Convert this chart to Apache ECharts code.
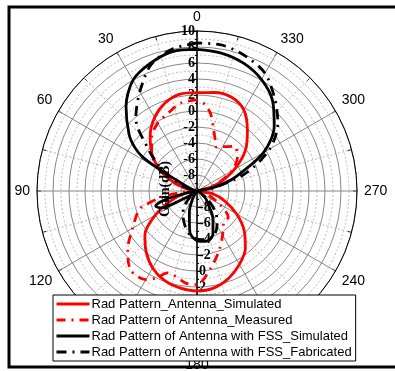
<!DOCTYPE html>
<html><head><meta charset="utf-8">
<script src="https://cdn.jsdelivr.net/npm/echarts@6/dist/echarts.min.js"></script>
<style>html,body{margin:0;padding:0;background:#fff}#c{width:395px;height:371px}</style>
</head><body><div id="c"></div>
<script>
// Series names
const seriesNames = [
  'Rad Pattern_Antenna_Simulated',
  'Rad Pattern of Antenna_Measured',
  'Rad Pattern of Antenna with FSS_Simulated',
  'Rad Pattern of Antenna with FSS_Fabricated'
];
// Angles (deg) and gains (dB)
const simAntAngles = [0,10,20,30,40,50,60,70,80,90,100,110,120,130,140,150,160,170,180,190,200,210,220,230,240,250,260,270,280,290,300,310,320,330,340,350,360];
const simAntGain   = [2.3,2.3,1.7,0.6,-0.9,-2.6,-4.6,-7.0,-9.0,-10,-8.6,-6.6,-4.0,-1.5,-0.1,1.1,1.9,2.3,2.5,2.3,1.6,0.6,-0.6,-2.3,-4.3,-6.3,-8.0,-10,-9.2,-7.1,-4.6,-2.1,-0.2,1.7,2.5,2.5,2.3];

const measAntAngles = [0,10,20,30,40,50,60,70,80,90,95,100,106,110,120,130,140,150,155,160,166,173,180,190,200,210,220,230,240,250,260,270,280,290,300,310,320,330,336,340,345,350,355,360];
const measAntGain   = [1.4,1.2,0.4,-0.2,-1.2,-2.6,-4.6,-7.0,-9.5,-10,-8,-5.5,-2.9,-2.1,-0.7,1.3,2.9,2.8,2.0,0.9,1.0,1.6,1.7,-0.2,-2.0,-3.6,-4.8,-4.9,-6.8,-8.5,-9.6,-10,-9.5,-7.3,-5.0,-3.4,-2.7,-3.6,-4.0,-3.3,-2.0,-0.2,0.9,1.4];

const simFssAngles = [0,10,20,30,40,50,55,58,60,62,70,80,90,100,105,110,115,120,130,140,150,160,170,180,190,200,210,220,230,240,250,270,280,285,290,300,310,320,330,340,350,360];
const simFssGain   = [7.7,7.7,7.0,6.0,3.8,1.1,-0.5,-2.0,-4.5,-7.0,-9.0,-9.8,-10,-9,-6,-4.5,-5,-8,-9.5,-10,-9.0,-7.2,-4.8,-3.8,-3.6,-4.2,-6.0,-7.8,-8.6,-9.5,-10,-10,-8.5,-6.8,-4.9,-0.4,2.6,4.7,6.1,7.0,7.5,7.7];

const fabFssAngles = [0,10,20,30,40,50,55,60,70,80,90,130,140,150,160,170,180,190,200,210,220,230,240,270,280,290,300,310,320,330,340,350,360];
const fabFssGain   = [8.5,8.0,6.8,4.3,1.9,-2.2,-3.9,-5.5,-8.0,-9.5,-10,-9,-7.5,-6.5,-5.5,-4.5,-4.0,-3.8,-4.0,-5.0,-6.3,-8.0,-9.5,-10,-8.0,-3.5,0.5,3.2,5.1,7.0,7.9,8.5,8.5];

// Axis ticks
const angleLabels = [0,30,60,90,120,150,180,210,240,270,300,330];
const gainMin = -10, gainMax = 10, gainStep = 2;

function pairs(angles, gains){ return angles.map((a,i)=>[gains[i], a]); }

const C = [197, 191], R = 160;
const chart = echarts.init(document.getElementById('c'), null, {renderer:'canvas'});
const radLabelStyle = {fontFamily:'Liberation Serif', fontWeight:'bold', fontSize:14, color:'#000', margin:2,
  formatter: v => (v === gainMin ? '' : String(v))};

chart.setOption({
  animation:false,
  backgroundColor:'#fff',
  polar:[{center:C, radius:R},{center:C, radius:R}],
  angleAxis:[{
    polarIndex:0, type:'value', min:0, max:360, interval:30, startAngle:90, clockwise:false,
    axisLine:{show:true, lineStyle:{color:'#000', width:1}},
    axisTick:{show:true, inside:true, length:4, lineStyle:{color:'#000'}},
    minorTick:{show:true, splitNumber:2, length:4, lineStyle:{color:'#000'}},
    axisLabel:{show:true, margin:7, fontFamily:'Liberation Sans', fontSize:14, color:'#000',
      formatter: v => angleLabels.includes(v) ? String(v) : ''},
    splitLine:{show:true, lineStyle:{color:'#888', width:1}},
    minorSplitLine:{show:true, lineStyle:{color:'#bbb', type:[2,2], width:1}}
  },{
    polarIndex:1, type:'value', min:0, max:360, startAngle:270, clockwise:false,
    axisLine:{show:false}, axisTick:{show:false}, axisLabel:{show:false}, splitLine:{show:false}
  }],
  radiusAxis:[{
    polarIndex:0, type:'value', min:gainMin, max:gainMax, interval:gainStep,
    axisLine:{show:true, lineStyle:{color:'#000', width:1.5}},
    axisTick:{show:true, length:3, lineStyle:{color:'#000'}},
    minorTick:{show:true, splitNumber:2, length:2, lineStyle:{color:'#000'}},
    axisLabel:radLabelStyle,
    splitLine:{show:true, lineStyle:{color:'#888', width:1}},
    minorSplitLine:{show:true, lineStyle:{color:'#bbb', type:[2,2], width:1}}
  },{
    polarIndex:1, type:'value', min:gainMin, max:gainMax, interval:gainStep,
    axisLine:{show:true, lineStyle:{color:'#000', width:1.5}},
    axisTick:{show:true, length:3, lineStyle:{color:'#000'}},
    minorTick:{show:true, splitNumber:2, length:2, lineStyle:{color:'#000'}},
    axisLabel:radLabelStyle,
    splitLine:{show:false}
  }],
  legend:{
    orient:'vertical', left:53, top:295, width:307,
    backgroundColor:'#fff', borderColor:'#000', borderWidth:1, borderRadius:0,
    padding:[2,4,2,2], itemGap:2, itemWidth:33, itemHeight:12,
    itemStyle:{opacity:0},
    lineStyle:{width:3},
    textStyle:{fontFamily:'Liberation Sans', fontSize:13, lineHeight:14, color:'#000', padding:[0,0,0,-3]},
    data:seriesNames
  },
  series:[
    {name:seriesNames[0], type:'line', coordinateSystem:'polar', polarIndex:0, symbol:'none', smooth:0.3,
     lineStyle:{color:'#ff0000', width:2.8}, itemStyle:{color:'#ff0000'},
     data:pairs(simAntAngles, simAntGain)},
    {name:seriesNames[1], type:'line', coordinateSystem:'polar', polarIndex:0, symbol:'none', smooth:0.3,
     lineStyle:{color:'#ff0000', width:2.8, type:[9,6,2,6]}, itemStyle:{color:'#ff0000'},
     data:pairs(measAntAngles, measAntGain)},
    {name:seriesNames[2], type:'line', coordinateSystem:'polar', polarIndex:0, symbol:'none', smooth:0.3,
     lineStyle:{color:'#000', width:2.8}, itemStyle:{color:'#000'},
     data:pairs(simFssAngles, simFssGain)},
    {name:seriesNames[3], type:'line', coordinateSystem:'polar', polarIndex:0, symbol:'none', smooth:0.3,
     lineStyle:{color:'#000', width:2.8, type:[10,6,2,6]}, itemStyle:{color:'#000'},
     data:pairs(fabFssAngles, fabFssGain)}
  ],
  graphic:[
    {type:'rect', shape:{x:9, y:7, width:400, height:360}, style:{fill:null, stroke:'#000', lineWidth:3}, silent:true, z:100},
    {type:'text', x:165, y:189, rotation:Math.PI/2, z:50,
     style:{text:'Gain(dB)', fontFamily:'Liberation Serif', fontWeight:'bold', fontSize:14, fill:'#000', align:'center', verticalAlign:'middle'}}
  ]
});
</script></body></html>
